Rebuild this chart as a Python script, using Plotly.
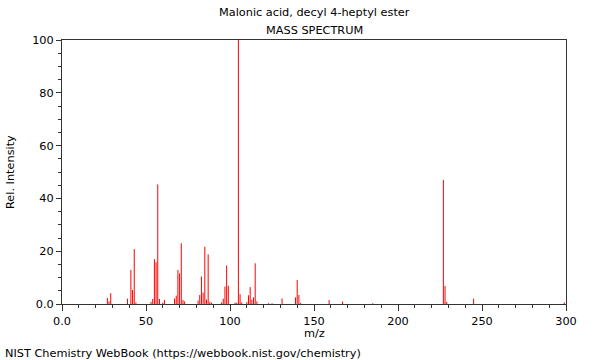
import plotly.graph_objects as go

mz = [27, 28, 29, 39, 41, 42, 43, 44, 53, 54, 55, 56, 57, 58, 60, 61,
      67, 68, 69, 70, 71, 72, 73, 81, 82, 83, 84, 85, 86, 87, 88, 89,
      95, 96, 97, 98, 99, 103, 104, 105, 106, 107, 110, 111, 112, 113, 114, 115, 116,
      123, 125, 131, 139, 140, 141, 142, 159, 167, 185, 227, 228, 229, 245, 299]
intensity = [2.3, 1.0, 4.1, 2.0, 12.9, 5.3, 20.8, 0.6, 0.8, 1.9, 17.0, 15.8, 45.3, 1.9, 0.5, 1.5,
             2.1, 3.2, 12.9, 11.6, 23.0, 1.5, 1.0, 1.3, 3.4, 10.4, 4.3, 21.7, 1.7, 18.8, 0.8, 0.5,
             0.6, 2.0, 6.6, 14.6, 6.9, 0.5, 0.5, 100.0, 3.7, 0.6, 0.7, 3.3, 6.4, 1.6, 2.5, 15.4, 1.0,
             0.3, 0.3, 2.1, 2.5, 9.1, 3.4, 0.4, 1.5, 0.9, 0.3, 47.0, 6.8, 0.8, 2.0, 0.6]

x_ticks = [0, 50, 100, 150, 200, 250, 300]
x_labels = ["0.0", "50", "100", "150", "200", "250", "300"]
y_ticks = [0, 20, 40, 60, 80, 100]
y_labels = ["0.0", "20", "40", "60", "80", "100"]

title_line1 = "Malonic acid, decyl 4-heptyl ester"
title_line2 = "MASS SPECTRUM"
x_title = "m/z"
y_title = "Rel. Intensity"
footer = "NIST Chemistry WebBook (https://webbook.nist.gov/chemistry)"

font = "DejaVu Sans"
FS = 11.3
L, R, T, B = 62, 34, 40, 56
pw, ph = 600 - L - R, 360 - T - B


def px_to_paper(px, py):
    return (px - L) / pw, 1 - (py - T) / ph


# stems built from the data arrays
stem_x, stem_y = [], []
for m, v in zip(mz, intensity):
    stem_x += [m, m, None]
    stem_y += [0, v, None]

fig = go.Figure()
fig.add_trace(go.Scatter(x=stem_x, y=stem_y, mode="lines",
                         line=dict(color="#ff0000", width=1), hoverinfo="skip"))
fig.add_trace(go.Scatter(x=mz, y=intensity, mode="markers",
                         marker=dict(size=6, opacity=0), hoverinfo="x+y"))

axis_common = dict(showline=True, mirror=True, linecolor="#333333", linewidth=1,
                   showgrid=False, zeroline=False, ticks="outside", tickcolor="#333333",
                   automargin=False,
                   tickfont=dict(family=font, size=FS, color="black"))

texts = [(title_line1, 314, 13, "center", 0), (title_line2, 314, 30, "center", 0),
         (x_title, 314, 333, "center", 0), (y_title, 10, 172, "center", -90),
         (footer, 3, 353, "left", 0)]
anns = []
for txt, px, py, anchor, ang in texts:
    xp, yp = px_to_paper(px, py)
    anns.append(dict(text=txt, x=xp, y=yp, xref="paper", yref="paper", showarrow=False,
                     xanchor=anchor, yanchor="middle", textangle=ang,
                     font=dict(family=font, size=FS, color="black")))

fig.update_layout(
    width=600, height=360,
    margin=dict(l=L, r=R, t=T, b=B),
    paper_bgcolor="white", plot_bgcolor="white",
    showlegend=False,
    font=dict(family=font, size=FS, color="black"),
    xaxis=dict(range=[0, 300], tickvals=x_ticks, ticktext=x_labels, ticklen=6,
               minor=dict(dtick=10, tick0=0, ticklen=3, ticks="outside", tickcolor="#333333"),
               **axis_common),
    yaxis=dict(range=[0, 100], tickvals=y_ticks, ticktext=y_labels, ticklen=5,
               minor=dict(dtick=5, tick0=0, ticklen=3, ticks="outside", tickcolor="#333333"),
               **axis_common),
    annotations=anns,
)

fig.write_html("out.html", config={"displayModeBar": False},
               post_script="document.body.style.margin='0';")
